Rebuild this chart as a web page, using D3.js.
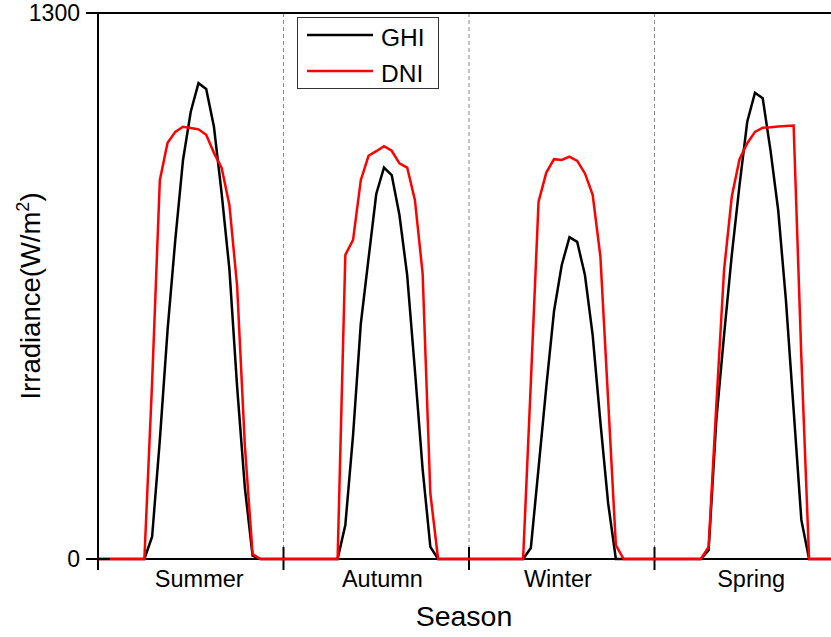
<!DOCTYPE html>
<html>
<head>
<meta charset="utf-8">
<script src="https://cdn.jsdelivr.net/npm/d3@7"></script>
<style>
  body { margin: 0; background: #fff; }
  svg { display: block; font-family: "Liberation Sans", Arial, sans-serif; }
</style>
</head>
<body>
<div id="chart"></div>
<script>
// hourly irradiance, one array of 24 values per season (W/m2)
var seasons = ["Summer", "Autumn", "Winter", "Spring"];
var seasonLabelPos = [13.1, 36.8, 59.5, 84.5];

var ghiSummer = [0,0,0,0,0,0,0,53,283,545,760,950,1065,1133,1119,1029,870,690,410,170,8,0,0,0];
var ghiAutumn = [0,0,0,0,0,0,0,0,81,295,560,715,869,932,914,819,676,450,214,29,0,0,0,0];
var ghiWinter = [0,0,0,0,0,0,0,0,26,217,410,590,700,766,755,676,533,326,133,0,0,0,0,0];
var ghiSpring = [0,0,0,0,0,0,0,21,331,533,724,890,1041,1110,1097,974,831,617,355,93,0,0,0,0];

var dniSummer = [0,0,0,0,0,0,0,420,902,991,1017,1029,1026,1023,1010,967,931,843,650,270,12,0,0,0];
var dniAutumn = [0,0,0,0,0,0,0,0,724,760,902,960,971,983,972,942,932,855,680,156,0,0,0,0];
var dniWinter = [0,0,0,0,0,0,0,0,420,851,920,952,950,958,948,918,867,720,379,33,0,0,0,0];
var dniSpring = [0,0,0,0,0,0,0,29,367,688,863,952,990,1017,1027,1028,1030,1031,1032,480,0,0,0,0];

var yTicks = [0, 1300];

var ghi = ghiSummer.concat(ghiAutumn, ghiWinter, ghiSpring);
var dni = dniSummer.concat(dniAutumn, dniWinter, dniSpring);

var W = 831, H = 637;
var plotLeft = 98, plotTop = 13, plotBottom = 559, plotRight = 840;

var svg = d3.select("#chart").append("svg")
    .attr("width", W)
    .attr("height", H);

var x = d3.scaleLinear().domain([0, 96]).range([plotLeft, plotRight]);
var y = d3.scaleLinear().domain([0, 1300]).range([plotBottom, plotTop]);

// dashed season separators
svg.selectAll(".sep")
    .data([24, 48, 72])
    .enter().append("line")
    .attr("x1", d => x(d)).attr("x2", d => x(d))
    .attr("y1", plotTop).attr("y2", plotBottom)
    .attr("stroke", "#888")
    .attr("stroke-width", 1)
    .attr("stroke-dasharray", "4,3");

// frame lines
svg.append("line").attr("x1", plotLeft).attr("x2", W).attr("y1", plotTop).attr("y2", plotTop)
    .attr("stroke", "#000").attr("stroke-width", 2);
svg.append("line").attr("x1", plotLeft).attr("x2", W).attr("y1", plotBottom).attr("y2", plotBottom)
    .attr("stroke", "#000").attr("stroke-width", 2);
svg.append("line").attr("x1", plotLeft).attr("x2", plotLeft).attr("y1", plotTop).attr("y2", plotBottom)
    .attr("stroke", "#000").attr("stroke-width", 2);

// x ticks (crossing the axis)
svg.selectAll(".xtick")
    .data([0, 24, 48, 72])
    .enter().append("line")
    .attr("x1", d => x(d)).attr("x2", d => x(d))
    .attr("y1", plotBottom - 12).attr("y2", plotBottom + 11)
    .attr("stroke", "#000").attr("stroke-width", 2);

var line = d3.line()
    .x(function(d, i) { return x(i); })
    .y(function(d) { return y(d); });

svg.append("path").datum(ghi)
    .attr("d", line)
    .attr("fill", "none")
    .attr("stroke", "#000")
    .attr("stroke-width", 2.5);

svg.append("path").datum(dni)
    .attr("d", line)
    .attr("fill", "none")
    .attr("stroke", "#ff0000")
    .attr("stroke-width", 2.5);

svg.selectAll(".xlab")
    .data(seasons)
    .enter().append("text")
    .attr("x", (d, i) => x(seasonLabelPos[i]))
    .attr("y", 587)
    .attr("text-anchor", "middle")
    .attr("font-size", 23.5)
    .text(d => d);

// y ticks
svg.selectAll(".ytick")
    .data(yTicks)
    .enter().append("line")
    .attr("x1", plotLeft - 12).attr("x2", plotLeft + 12)
    .attr("y1", d => y(d)).attr("y2", d => y(d))
    .attr("stroke", "#000").attr("stroke-width", 2);

svg.selectAll(".ylab")
    .data(yTicks)
    .enter().append("text")
    .attr("x", plotLeft - 18)
    .attr("y", d => y(d))
    .attr("dy", "0.35em")
    .attr("text-anchor", "end")
    .attr("font-size", 23)
    .text(d => d);

// axis titles
svg.append("text")
    .attr("x", x(48) - 5)
    .attr("y", 626)
    .attr("text-anchor", "middle")
    .attr("font-size", 28.5)
    .text("Season");

var yt = svg.append("text")
    .attr("transform", "translate(40,296) rotate(-90)")
    .attr("text-anchor", "middle")
    .attr("font-size", 27.5);
yt.append("tspan").text("Irradiance(W/m");
yt.append("tspan").attr("font-size", 18).attr("dy", -11).text("2");
yt.append("tspan").attr("dy", 11).text(")");

// legend
var legend = svg.append("g");
legend.append("rect")
    .attr("x", 297.5).attr("y", 17.5)
    .attr("width", 141).attr("height", 71)
    .attr("fill", "#fff")
    .attr("stroke", "#333").attr("stroke-width", 1);

var legendItems = [["GHI", "#000"], ["DNI", "#ff0000"]];
legendItems.forEach(function(d, i) {
    var ly = 35 + i * 36;
    legend.append("line")
        .attr("x1", 307).attr("x2", 373)
        .attr("y1", ly).attr("y2", ly)
        .attr("stroke", d[1]).attr("stroke-width", 2.5);
    legend.append("text")
        .attr("x", 381).attr("y", ly + 11)
        .attr("font-size", 24.5)
        .text(d[0]);
});
</script>
</body>
</html>
